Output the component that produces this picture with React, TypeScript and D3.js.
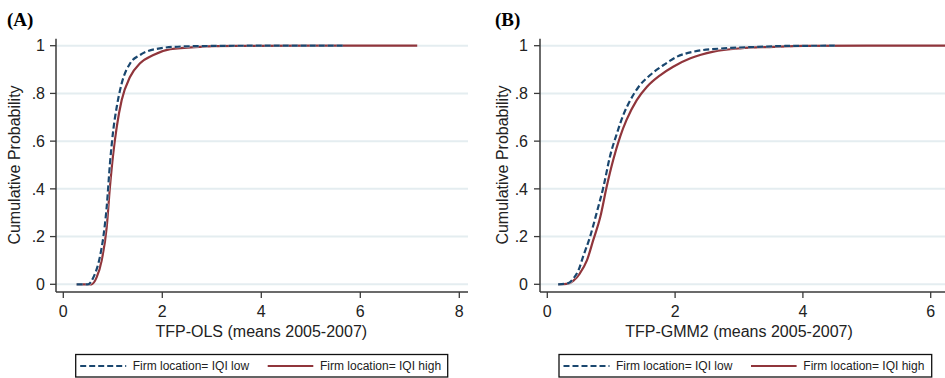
import React from "react";
import * as d3 from "d3";

// ---- Data ----
const yTicks = [0, 0.2, 0.4, 0.6, 0.8, 1];
const yTickLabels = ["0", ".2", ".4", ".6", ".8", "1"];
const xTicksA = [0, 2, 4, 6, 8];
const xTicksB = [0, 2, 4, 6];

const olsLowX = [0.27, 0.5, 0.61, 0.74, 0.81, 0.877, 0.943, 1.01, 1.08, 1.18, 1.35, 1.55, 1.95, 2.42, 3.0, 4.0, 5.7];
const olsLowY = [0, 0.0, 0.03, 0.116, 0.2, 0.325, 0.507, 0.647, 0.744, 0.842, 0.926, 0.961, 0.989, 0.997, 0.999, 1, 1];
const olsHighX = [0.27, 0.57, 0.675, 0.775, 0.877, 0.943, 1.01, 1.08, 1.18, 1.35, 1.55, 1.82, 2.16, 2.76, 3.5, 5.0, 7.15];
const olsHighY = [0, 0.0, 0.03, 0.1, 0.24, 0.41, 0.55, 0.66, 0.772, 0.87, 0.926, 0.961, 0.985, 0.995, 0.999, 1, 1];

const gmmLowX = [0.17, 0.33, 0.41, 0.49, 0.56, 0.67, 0.77, 0.88, 0.98, 1.09, 1.19, 1.3, 1.43, 1.61, 1.82, 2.03, 2.29, 2.76, 3.28, 3.75, 4.5];
const gmmLowY = [0, 0.005, 0.025, 0.06, 0.116, 0.2, 0.297, 0.41, 0.535, 0.633, 0.71, 0.772, 0.828, 0.877, 0.919, 0.954, 0.975, 0.989, 0.995, 0.999, 1];
const gmmHighX = [0.17, 0.33, 0.41, 0.51, 0.62, 0.72, 0.83, 0.93, 1.03, 1.14, 1.24, 1.4, 1.56, 1.77, 1.97, 2.24, 2.6, 3.02, 3.54, 4.0, 5.0, 7.0];
const gmmHighY = [0, 0.003, 0.015, 0.046, 0.1, 0.186, 0.283, 0.41, 0.52, 0.619, 0.689, 0.772, 0.828, 0.877, 0.912, 0.947, 0.975, 0.989, 0.995, 0.999, 1, 1];

const legendLabels = ["Firm location= IQI low", "Firm location= IQI high"];

const NAVY = "#1a476f";
const MAROON = "#90353b";
const GRID = "#e4edf0";
const AXIS = "#3a3a3a";
const SANS = "'Liberation Sans', Arial, sans-serif";

type PanelProps = {
  id: string;
  title: string;
  titleX: number;
  xTitle: string;
  axisX: number;
  plotRight: number;
  xDomain: [number, number];
  xRange: [number, number];
  xTicks: number[];
  yLabelX: number;
  yTitleX: number;
  low: [number[], number[]];
  high: [number[], number[]];
  legendX: [number, number];
};

function Panel(p: PanelProps) {
  const x = d3.scaleLinear().domain(p.xDomain).range(p.xRange);
  const y = d3.scaleLinear().domain([0, 1]).range([284.3, 45.7]);
  const plotTop = 38.7;
  const plotBottom = 292;
  const line = d3
    .line<[number, number]>()
    .x((d) => x(d[0]))
    .y((d) => y(d[1]))
    .curve(d3.curveMonotoneX);
  const lowPts = p.low[0].map((v, i) => [v, p.low[1][i]] as [number, number]);
  const highPts = p.high[0].map((v, i) => [v, p.high[1][i]] as [number, number]);
  const clipId = "clip" + p.id;
  const xMid = (p.xRange[0] + p.xRange[1]) / 2;
  const [lx0, lx1] = p.legendX;
  return (
    <g>
      <defs>
        <clipPath id={clipId}>
          <rect x={p.axisX} y={plotTop - 5} width={p.plotRight - p.axisX} height={plotBottom - plotTop + 5} />
        </clipPath>
      </defs>
      <text x={p.titleX} y={26} fontFamily="'Liberation Serif', 'Times New Roman', serif" fontWeight="bold" fontSize={19}>
        {p.title}
      </text>
      {yTicks.map((t) => (
        <line key={"g" + t} x1={p.axisX} x2={p.plotRight} y1={y(t)} y2={y(t)} stroke={GRID} strokeWidth={2} />
      ))}
      <g clipPath={`url(#${clipId})`}>
        <path d={line(highPts) || ""} fill="none" stroke={MAROON} strokeWidth={2.2} />
        <path d={line(lowPts) || ""} fill="none" stroke="#ffffff" strokeWidth={3.2} strokeDasharray="6,3" opacity={0.6} />
        <path d={line(lowPts) || ""} fill="none" stroke={NAVY} strokeWidth={2.2} strokeDasharray="6,3" />
      </g>
      <line x1={p.axisX} x2={p.axisX} y1={plotTop} y2={plotBottom} stroke={AXIS} strokeWidth={1.5} />
      <line x1={p.axisX} x2={p.plotRight} y1={plotBottom} y2={plotBottom} stroke={AXIS} strokeWidth={1.5} />
      {yTicks.map((t, i) => (
        <g key={"y" + t}>
          <line x1={p.axisX - 6} x2={p.axisX} y1={y(t)} y2={y(t)} stroke={AXIS} strokeWidth={1.3} />
          <text x={p.yLabelX} y={y(t)} dy="0.36em" textAnchor="end" fontFamily={SANS} fontSize={16} fill="#222">
            {yTickLabels[i]}
          </text>
        </g>
      ))}
      {p.xTicks.map((t) => (
        <g key={"x" + t}>
          <line x1={x(t)} x2={x(t)} y1={plotBottom} y2={plotBottom + 6} stroke={AXIS} strokeWidth={1.3} />
          <text x={x(t)} y={317} textAnchor="middle" fontFamily={SANS} fontSize={16} fill="#222">
            {t}
          </text>
        </g>
      ))}
      <text x={xMid} y={337} textAnchor="middle" fontFamily={SANS} fontSize={16} fill="#222">
        {p.xTitle}
      </text>
      <text
        transform={`translate(${p.yTitleX},165) rotate(-90)`}
        textAnchor="middle"
        fontFamily={SANS}
        fontSize={16}
        fill="#222"
      >
        Cumulative Probability
      </text>
      <rect x={lx0} y={354.5} width={lx1 - lx0} height={22.5} fill="#fff" stroke="#111" strokeWidth={1.3} />
      <line x1={lx0 + 4.5} x2={lx0 + 50.5} y1={366} y2={366} stroke={NAVY} strokeWidth={2} strokeDasharray="6,3" />
      <text x={lx0 + 57} y={370} fontFamily={SANS} fontSize={12} fill="#222">
        {legendLabels[0]}
      </text>
      <line x1={lx0 + 192} x2={lx0 + 237.6} y1={366} y2={366} stroke={MAROON} strokeWidth={2} />
      <text x={lx0 + 244.3} y={370} fontFamily={SANS} fontSize={12} fill="#222">
        {legendLabels[1]}
      </text>
    </g>
  );
}

export default function App() {
  return (
    <svg
      width={945}
      height={378}
      style={{ position: "absolute", left: 0, top: 0, background: "#fff" }}
    >
      <rect x={0} y={0} width={945} height={378} fill="#fff" />
      <Panel
        id="A"
        title="(A)"
        titleX={7}
        xTitle="TFP-OLS (means 2005-2007)"
        axisX={56}
        plotRight={468}
        xDomain={[0, 8]}
        xRange={[63.3, 459.3]}
        xTicks={xTicksA}
        yLabelX={45}
        yTitleX={20}
        low={[olsLowX, olsLowY]}
        high={[olsHighX, olsHighY]}
        legendX={[75.7, 447.7]}
      />
      <Panel
        id="B"
        title="(B)"
        titleX={495}
        xTitle="TFP-GMM2 (means 2005-2007)"
        axisX={540}
        plotRight={945}
        xDomain={[0, 6]}
        xRange={[547.3, 930.7]}
        xTicks={xTicksB}
        yLabelX={528}
        yTitleX={508}
        low={[gmmLowX, gmmLowY]}
        high={[gmmHighX, gmmHighY]}
        legendX={[559, 931.7]}
      />
    </svg>
  );
}
